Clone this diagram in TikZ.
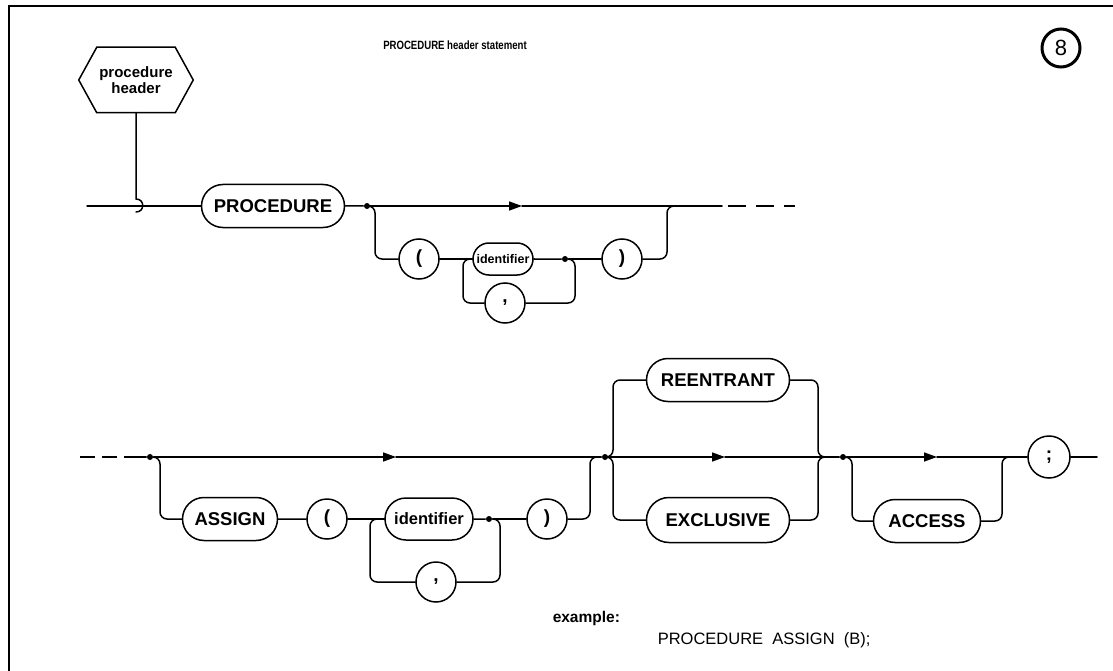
\documentclass[tikz,border=0pt]{standalone}
\usepackage{fontspec}
\usepackage{graphicx}
\setmainfont{Liberation Sans}
\usetikzlibrary{arrows.meta,shapes.misc}
\begin{document}
\begin{tikzpicture}[x=1pt,y=-1pt, line width=1.5pt, line cap=round,
  term/.style={draw, rounded rectangle, minimum height=43pt, inner sep=0pt, font=\fontsize{18.5}{18.5}\selectfont\bfseries},
  punct/.style={draw, circle, minimum size=40pt, inner sep=0pt, font=\fontsize{19}{19}\selectfont\bfseries},
  junc/.style={circle, fill, inner sep=0pt, minimum size=6pt},
  flow/.style={-{Triangle[length=13pt,width=9pt]}},
  rc/.style={rounded corners=7pt},
  plain/.style={inner sep=0pt}]
\useasboundingbox (0,0) rectangle (1113,671);
% frame
\draw[line width=2.6pt, line cap=butt] (9,671) -- (9,6) -- (1113,6);
% title and number
\node[plain, font=\fontsize{12}{12}\selectfont\bfseries] (title) at (455,45) {\scalebox{0.8}[1]{PROCEDURE header statement}};
\node[draw, circle, line width=3pt, minimum size=38pt, inner sep=0pt, font=\fontsize{22}{22}\selectfont] (num) at (1061,48) {8};
% hexagon entry
\node[plain, minimum width=113pt, minimum height=64pt, align=center, font=\fontsize{15}{16}\selectfont\bfseries] (hex) at (136,80) {procedure\\header};
\draw (hex.west) -- ([xshift=18pt]hex.north west) -- ([xshift=-18pt]hex.north east) -- (hex.east) -- ([xshift=-18pt]hex.south east) -- ([xshift=18pt]hex.south west) -- cycle;
\coordinate (hk1) at (136,199);
\coordinate (hk2) at (136,212);
\draw (hex.south) -- (hk1) .. controls (145,199) and (145,212) .. (hk2);
% ---------- row 1 ----------
\coordinate (s1) at (87,206);
\node[term, minimum width=143pt] (proc) at (273,206) {PROCEDURE};
\draw (s1) -- (proc);
\node[junc] (d1) at (367,206) {};
\draw (proc) -- (d1);
\coordinate (a1) at (522,206);
\draw[flow] (d1) -- (a1);
\coordinate (e1) at (722,206);
\coordinate (e1a) at (728,206);
\coordinate (e1d) at (795,206);
\draw (a1) -- (e1);
\draw[line cap=butt, dash pattern=on 18pt off 10pt] (e1a) -- (e1d);
\node[punct] (lp1) at (419,259) {(};
\draw[rc] (d1) -- (375,206) -- (375,259) -- (lp1);
\node[term, minimum width=60pt, minimum height=32pt, font=\fontsize{12.5}{12.5}\selectfont\bfseries] (id1) at (503,259) {identifier};
\draw (lp1) -- (id1);
\node[punct] (c1) at (505,303) {,};
\draw[rc] (c1) -- (463,303) -- (463,259) -- (id1.west);
\node[junc] (d2) at (565,259) {};
\draw (id1) -- (d2);
\draw[rc] (d2) -- (575,259) -- (575,303) -- (c1);
\node[punct] (rp1) at (622,259) {)};
\draw (d2) -- (rp1);
\draw[rc] (rp1) -- (667,259) -- (667,206) -- (677,206);
% ---------- row 2 ----------
\coordinate (s2) at (80,457);
\coordinate (s2b) at (137,457);
\draw[line cap=butt, dash pattern=on 15pt off 7pt] (s2) -- (s2b);
\node[junc] (d3) at (150,457) {};
\draw (s2b) -- (d3);
\coordinate (a2) at (396,457);
\draw[flow] (d3) -- (a2);
\node[junc] (d4) at (605,457) {};
\draw (a2) -- (d4);
\node[term, minimum width=95pt] (assign) at (230,519) {ASSIGN};
\draw[rc] (d3) -- (160,457) -- (160,519) -- (assign);
\node[punct] (lp2) at (327,519) {(};
\draw (assign) -- (lp2);
\node[term, minimum width=88pt, minimum height=42pt, font=\fontsize{16.5}{16.5}\selectfont\bfseries] (id2) at (429,519) {identifier};
\draw (lp2) -- (id2);
\node[punct] (c2) at (436,582) {,};
\draw[rc] (c2) -- (370,582) -- (370,519) -- (id2.west);
\node[junc] (d6) at (489,519) {};
\draw (id2) -- (d6);
\draw[rc] (d6) -- (500,519) -- (500,582) -- (c2);
\node[punct] (rp2) at (547,519) {)};
\draw (d6) -- (rp2);
\draw[rc] (rp2) -- (590,519) -- (590,457) -- (598,457);
% REENTRANT / EXCLUSIVE
\node[term, minimum width=143pt] (reen) at (718,380) {REENTRANT};
\node[term, minimum width=143pt, minimum height=45pt] (excl) at (718,520) {EXCLUSIVE};
\draw[rc] (d4) -- (613,457) -- (613,380) -- (reen);
\draw[rc] (d4) -- (613,457) -- (613,520) -- (excl);
\coordinate (a3) at (725,457);
\draw[flow] (d4) -- (a3);
\node[junc] (d5) at (843,457) {};
\draw (a3) -- (d5);
\draw[rc] (reen) -- (818,380) -- (818,457) -- (828,457);
\draw[rc] (excl) -- (818,520) -- (818,457) -- (828,457);
% ACCESS
\node[term, minimum width=107pt] (access) at (927,521) {ACCESS};
\draw[rc] (d5) -- (852,457) -- (852,521) -- (access);
\coordinate (a4) at (937,457);
\draw[flow] (d5) -- (a4);
\node[punct, minimum size=42pt] (semi) at (1049,457) {;};
\draw (a4) -- (semi);
\draw[rc] (access) -- (1002,521) -- (1002,457) -- (1012,457);
\coordinate (out) at (1097,457);
\draw (semi) -- (out);
% example
\node[plain, anchor=west, font=\fontsize{15.5}{15.5}\selectfont\bfseries] (ex) at (552,618) {example:};
\node[plain, anchor=west, font=\fontsize{16.5}{16.5}\selectfont] (exs) at (657,640) {PROCEDURE\ \ ASSIGN\ \ (B);};
\end{tikzpicture}
\end{document}
